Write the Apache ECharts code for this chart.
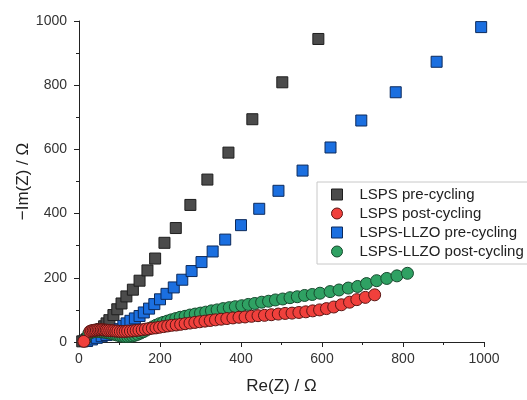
<!DOCTYPE html>
<html>
<head>
<meta charset="utf-8">
<script src="https://cdn.jsdelivr.net/npm/echarts@6/dist/echarts.min.js"></script>
<style>html,body{margin:0;padding:0;background:#fff;}#c{width:527px;height:400px;}</style>
</head>
<body>
<div id="c"></div>
<script>
const seriesNames = ['LSPS pre-cycling', 'LSPS post-cycling', 'LSPS-LLZO pre-cycling', 'LSPS-LLZO post-cycling'];
const xTickValues = [0, 200, 400, 600, 800, 1000];
const yTickValues = [0, 200, 400, 600, 800, 1000];

const lspsPreX = [8, 14, 20, 27, 34, 41, 48, 55, 62, 68, 75, 85, 94.5, 105, 117, 133, 149.5, 169, 188, 211, 239, 275, 317, 369, 428, 502, 591];
const lspsPreY = [2, 5, 9, 14, 19, 25, 32, 40, 49, 58, 68, 84, 102, 120, 142, 163, 191, 223, 260, 309, 355, 427, 506, 590, 694, 809, 944];

const lspsPostX = [12, 27, 31, 35, 39, 43, 47, 51, 55, 59, 63, 67, 71, 76, 81, 86, 91, 96, 102, 108, 114, 120, 127, 134, 141, 148, 156, 164, 172, 181, 190, 199, 209, 219, 229, 240, 251, 262, 274, 286, 298, 311, 324, 337, 351, 365, 380, 395, 410, 426, 442, 458, 475, 492, 509, 526, 543, 560, 577, 594, 611, 629, 648, 668, 686, 707, 730];
const lspsPostY = [2, 33, 35, 36, 37, 37, 38, 38, 38, 38, 37, 37, 36, 36, 35, 35, 34, 34, 33, 33, 33, 34, 34, 35, 36, 37, 38, 40, 41, 43, 44, 46, 48, 50, 52, 53, 55, 57, 59, 61, 63, 65, 67, 69, 71, 73, 75, 77, 78, 80, 82, 83, 85, 87, 89, 90, 92, 94, 97, 100, 104, 109, 116, 124, 132, 139, 147];

const llzoPreX = [20, 32, 44, 56, 68, 80, 90, 100, 109.5, 117.4, 127, 138, 149.5, 160, 173, 186, 200, 216, 234, 255, 278, 302.5, 330, 361, 400, 445, 492.5, 552, 621, 697, 782, 883, 993];
const llzoPreY = [3, 8, 13, 18, 22, 27, 32, 40, 50, 58, 66, 73.5, 81, 92, 104, 118, 133, 150, 170, 194, 221, 249, 282, 319, 364, 415, 471, 534, 606, 690, 778, 873, 981];

const llzoPostX = [14, 24, 30, 36, 42, 48, 54, 60, 66, 72, 78, 84, 90, 96, 102, 108, 114, 120, 126, 132, 138, 145, 152, 159, 166, 174, 182, 190, 199, 208, 218, 228, 239, 250, 262, 274, 287, 300, 313, 327, 341, 356, 371, 386, 402, 418, 434, 451, 468, 485, 503, 521, 539, 557, 576, 595, 620, 642, 665, 688, 710, 735, 760, 785, 811];
const llzoPostY = [5, 26, 30, 32, 33, 33, 32, 31, 30, 29, 27, 25, 23, 21, 19, 18, 17, 17, 18, 19, 21, 24, 28, 32, 37, 42, 47, 52, 57, 61, 65, 69, 73, 77, 80, 84, 87, 90, 93, 97, 100, 104, 107, 110, 113, 117, 120, 124, 127, 131, 134, 138, 141, 145, 148, 152, 157, 162, 168, 173, 182, 191, 198, 206, 214];

function pairs(xs, ys) { return xs.map((x, i) => [x, ys[i]]); }

const FONT = "'Liberation Sans', Arial, sans-serif";
const chart = echarts.init(document.getElementById('c'), null, {renderer: 'canvas'});

function axisCommon(name, gap, margin, ticks) {
  return {
    type: 'value', min: ticks[0], max: ticks[ticks.length - 1], interval: 200,
    name: name, nameLocation: 'middle', nameGap: gap, nameMoveOverlap: false,
    nameTextStyle: {fontFamily: FONT, fontSize: 17, color: '#222'},
    axisLine: {show: true, onZero: false, lineStyle: {color: '#222', width: 1}},
    axisTick: {show: true, inside: false, length: 5, lineStyle: {color: '#222'}},
    minorTick: {show: true, splitNumber: 2, length: 3, lineStyle: {color: '#222'}},
    axisLabel: {fontFamily: FONT, fontSize: 14, color: '#333', margin: margin,
                formatter: function (v) { return String(v); }},
    splitLine: {show: false}
  };
}

chart.setOption({
  animation: false,
  backgroundColor: '#fff',
  grid: {left: 79, right: 43, top: 21, bottom: 53, containLabel: false},
  xAxis: axisCommon('Re(Z) / Ω', 36, 10, xTickValues),
  yAxis: axisCommon('−Im(Z) / Ω', 47, 12, yTickValues),
  legend: {
    orient: 'vertical', left: 317, top: 182,
    padding: [5, 12, 5, 14],
    itemWidth: 11, itemHeight: 11, itemGap: 4,
    borderColor: '#c8c8c8', borderWidth: 1,
    textStyle: {fontFamily: FONT, fontSize: 15, color: '#222', padding: [0, 0, 0, 12]},
    itemStyle: {borderWidth: 1, opacity: 1},
    data: seriesNames
  },
  series: [
    {name: seriesNames[0], type: 'scatter', symbol: 'rect', symbolSize: 11, z: 2,
     itemStyle: {color: '#4b4b4b', borderColor: '#1e1e1e', borderWidth: 1, opacity: 1},
     data: pairs(lspsPreX, lspsPreY)},
    {name: seriesNames[1], type: 'scatter', symbol: 'circle', symbolSize: 12, z: 5,
     itemStyle: {color: '#f0403c', borderColor: '#5a1614', borderWidth: 1, opacity: 1},
     data: pairs(lspsPostX, lspsPostY)},
    {name: seriesNames[2], type: 'scatter', symbol: 'rect', symbolSize: 11, z: 3,
     itemStyle: {color: '#1b6fe0', borderColor: '#0c2a5c', borderWidth: 1, opacity: 1},
     data: pairs(llzoPreX, llzoPreY)},
    {name: seriesNames[3], type: 'scatter', symbol: 'circle', symbolSize: 12, z: 4,
     itemStyle: {color: '#2fa163', borderColor: '#174a2e', borderWidth: 1, opacity: 1},
     data: pairs(llzoPostX, llzoPostY)}
  ]
});
</script>
</body>
</html>
